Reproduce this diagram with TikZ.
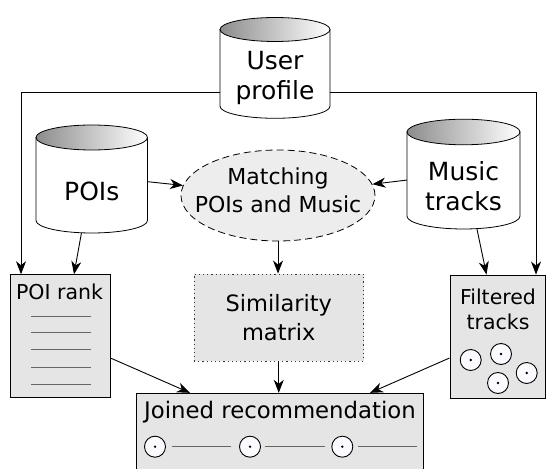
\documentclass[tikz,border=0pt]{standalone}
\usepackage{fontspec}
\setmainfont{DejaVu Sans}
\usetikzlibrary{arrows.meta,shapes.geometric}
\newcommand\dbcyl[6]{% name, cx, half width, top-ellipse centre y, bottom-ellipse centre y, y radius
  \path[draw=black, fill=white, line width=0.8pt] (#2-#3,#4) -- (#2-#3,#5)
    arc[start angle=180, end angle=360, x radius=#3pt, y radius=#6pt] -- (#2+#3,#4) -- cycle;
  \shade[left color=black!45, right color=white, draw=black, line width=0.8pt]
    (#2,#4) ellipse[x radius=#3pt, y radius=#6pt];
  \node[inner sep=0, minimum width={2*#3pt}, minimum height={(#4-#5+2*#6)*1pt}] (#1) at (#2,{(#4+#5)/2}) {};
}
\begin{document}
\begin{tikzpicture}[x=1pt,y=1pt,
  arr/.style={-{Stealth[length=13pt,width=10pt,inset=4pt]}, line width=0.9pt},
  boxfill/.style={fill=black!10, draw=black, line width=0.9pt, inner sep=0},
  bigtxt/.style={font=\fontsize{22.5}{29}\selectfont, align=center, inner sep=0},
  cyltxt/.style={font=\fontsize{25}{30}\selectfont, align=center, inner sep=0},
  smtxt/.style={font=\fontsize{20.5}{25}\selectfont, align=center, inner sep=0},
  trk/.style={circle, draw=black, line width=0.9pt, fill=blue!2, minimum size=21pt, inner sep=0},
  rulel/.style={draw=black!60, line width=0.9pt}
]
\useasboundingbox (0,0) rectangle (548,468);

% databases
\dbcyl{up}{275}{55}{438.5}{361.7}{12}
\dbcyl{pois}{91.75}{55.75}{330.5}{247.5}{12.5}
\dbcyl{music}{463.5}{56.5}{336}{251.8}{12.8}
\node[cyltxt] (uptxt) at (275,390.5) {User\\profile};
\node[cyltxt] (poistxt) at (91.75,276.3) {POIs};
\node[cyltxt] (musictxt) at (463.5,281.7) {Music\\tracks};

% matching ellipse
\node[ellipse, draw, dash pattern=on 7pt off 4pt, fill=black!7, minimum width=194pt,
      minimum height=91pt, inner sep=0, line width=0.8pt] (match) at (278,272.5) {};
\node[bigtxt, font=\fontsize{22}{28}\selectfont] (matchtxt) at (278,278) {Matching\\POIs and Music};

% similarity matrix
\node[boxfill, draw=black!80, dash pattern=on 1.2pt off 3pt, minimum width=169.5pt, minimum height=87pt] (sim) at (278.75,150.5) {};
\node[bigtxt] (simtxt) at (278.75,150.6) {Similarity\\matrix};

% POI rank
\node[boxfill, minimum width=100pt, minimum height=122.6pt] (poirank) at (60.7,132) {};
\node[smtxt] (poiranktxt) at (59.5,176) {POI rank};
\foreach \y in {152,135.3,118.5,101,84} \draw[rulel] (31,\y) -- (91,\y);

% filtered tracks
\node[boxfill, minimum width=95pt, minimum height=123pt] (filt) at (497.5,131.5) {};
\node[smtxt] (filttxt) at (498,158.5) {Filtered\\tracks};
\foreach \n/\p in {f1/{(470.7,108)}, f2/{(501,114)}, f3/{(498,85)}, f4/{(526.7,95)}} {
  \node[trk] (\n) at \p {};
  \fill (\n) circle (1.3pt);
}

% joined recommendation
\node[boxfill, minimum width=286.6pt, minimum height=80pt] (join) at (280,34.7) {};
\node[font=\fontsize{22.8}{27}\selectfont, inner sep=0] (jointxt) at (280,56) {Joined recommendation};
\foreach \n/\x in {j1/155, j2/250, j3/342.3} {
  \node[trk] (\n) at (\x,21.3) {};
  \fill (\n) circle (1.3pt);
}
\draw[rulel] (171.7,21.3) -- (231,21.3);
\draw[rulel] (265,21.3) -- (325,21.3);
\draw[rulel] (357.7,21.3) -- (417.3,21.3);

% connectors
\coordinate (lc) at (21,376);
\coordinate (rc) at (536,376);
\draw[arr] (up.west |- lc) -- (lc) -- (lc |- poirank.north);
\draw[arr] (up.east |- rc) -- (rc) -- (rc |- filt.north);
\draw[arr] ([xshift=-10.35pt]pois.south) -- ([xshift=13.3pt]poirank.north);
\draw[arr] ([yshift=-2.7pt]pois.east) -- (match);
\draw[arr] ([yshift=-6pt]music.west) -- (match);
\draw[arr] (match.south) -- (match.south |- sim.north);
\draw[arr] ([xshift=13.5pt]music.south) -- ([xshift=-11pt]filt.north);
\draw[arr] ([yshift=-22.3pt]poirank.east) -- ([xshift=-90pt]join.north);
\draw[arr] (sim.south) -- (sim.south |- join.north);
\draw[arr] ([yshift=-21.5pt]filt.west) -- ([xshift=90pt]join.north);
\end{tikzpicture}
\end{document}
